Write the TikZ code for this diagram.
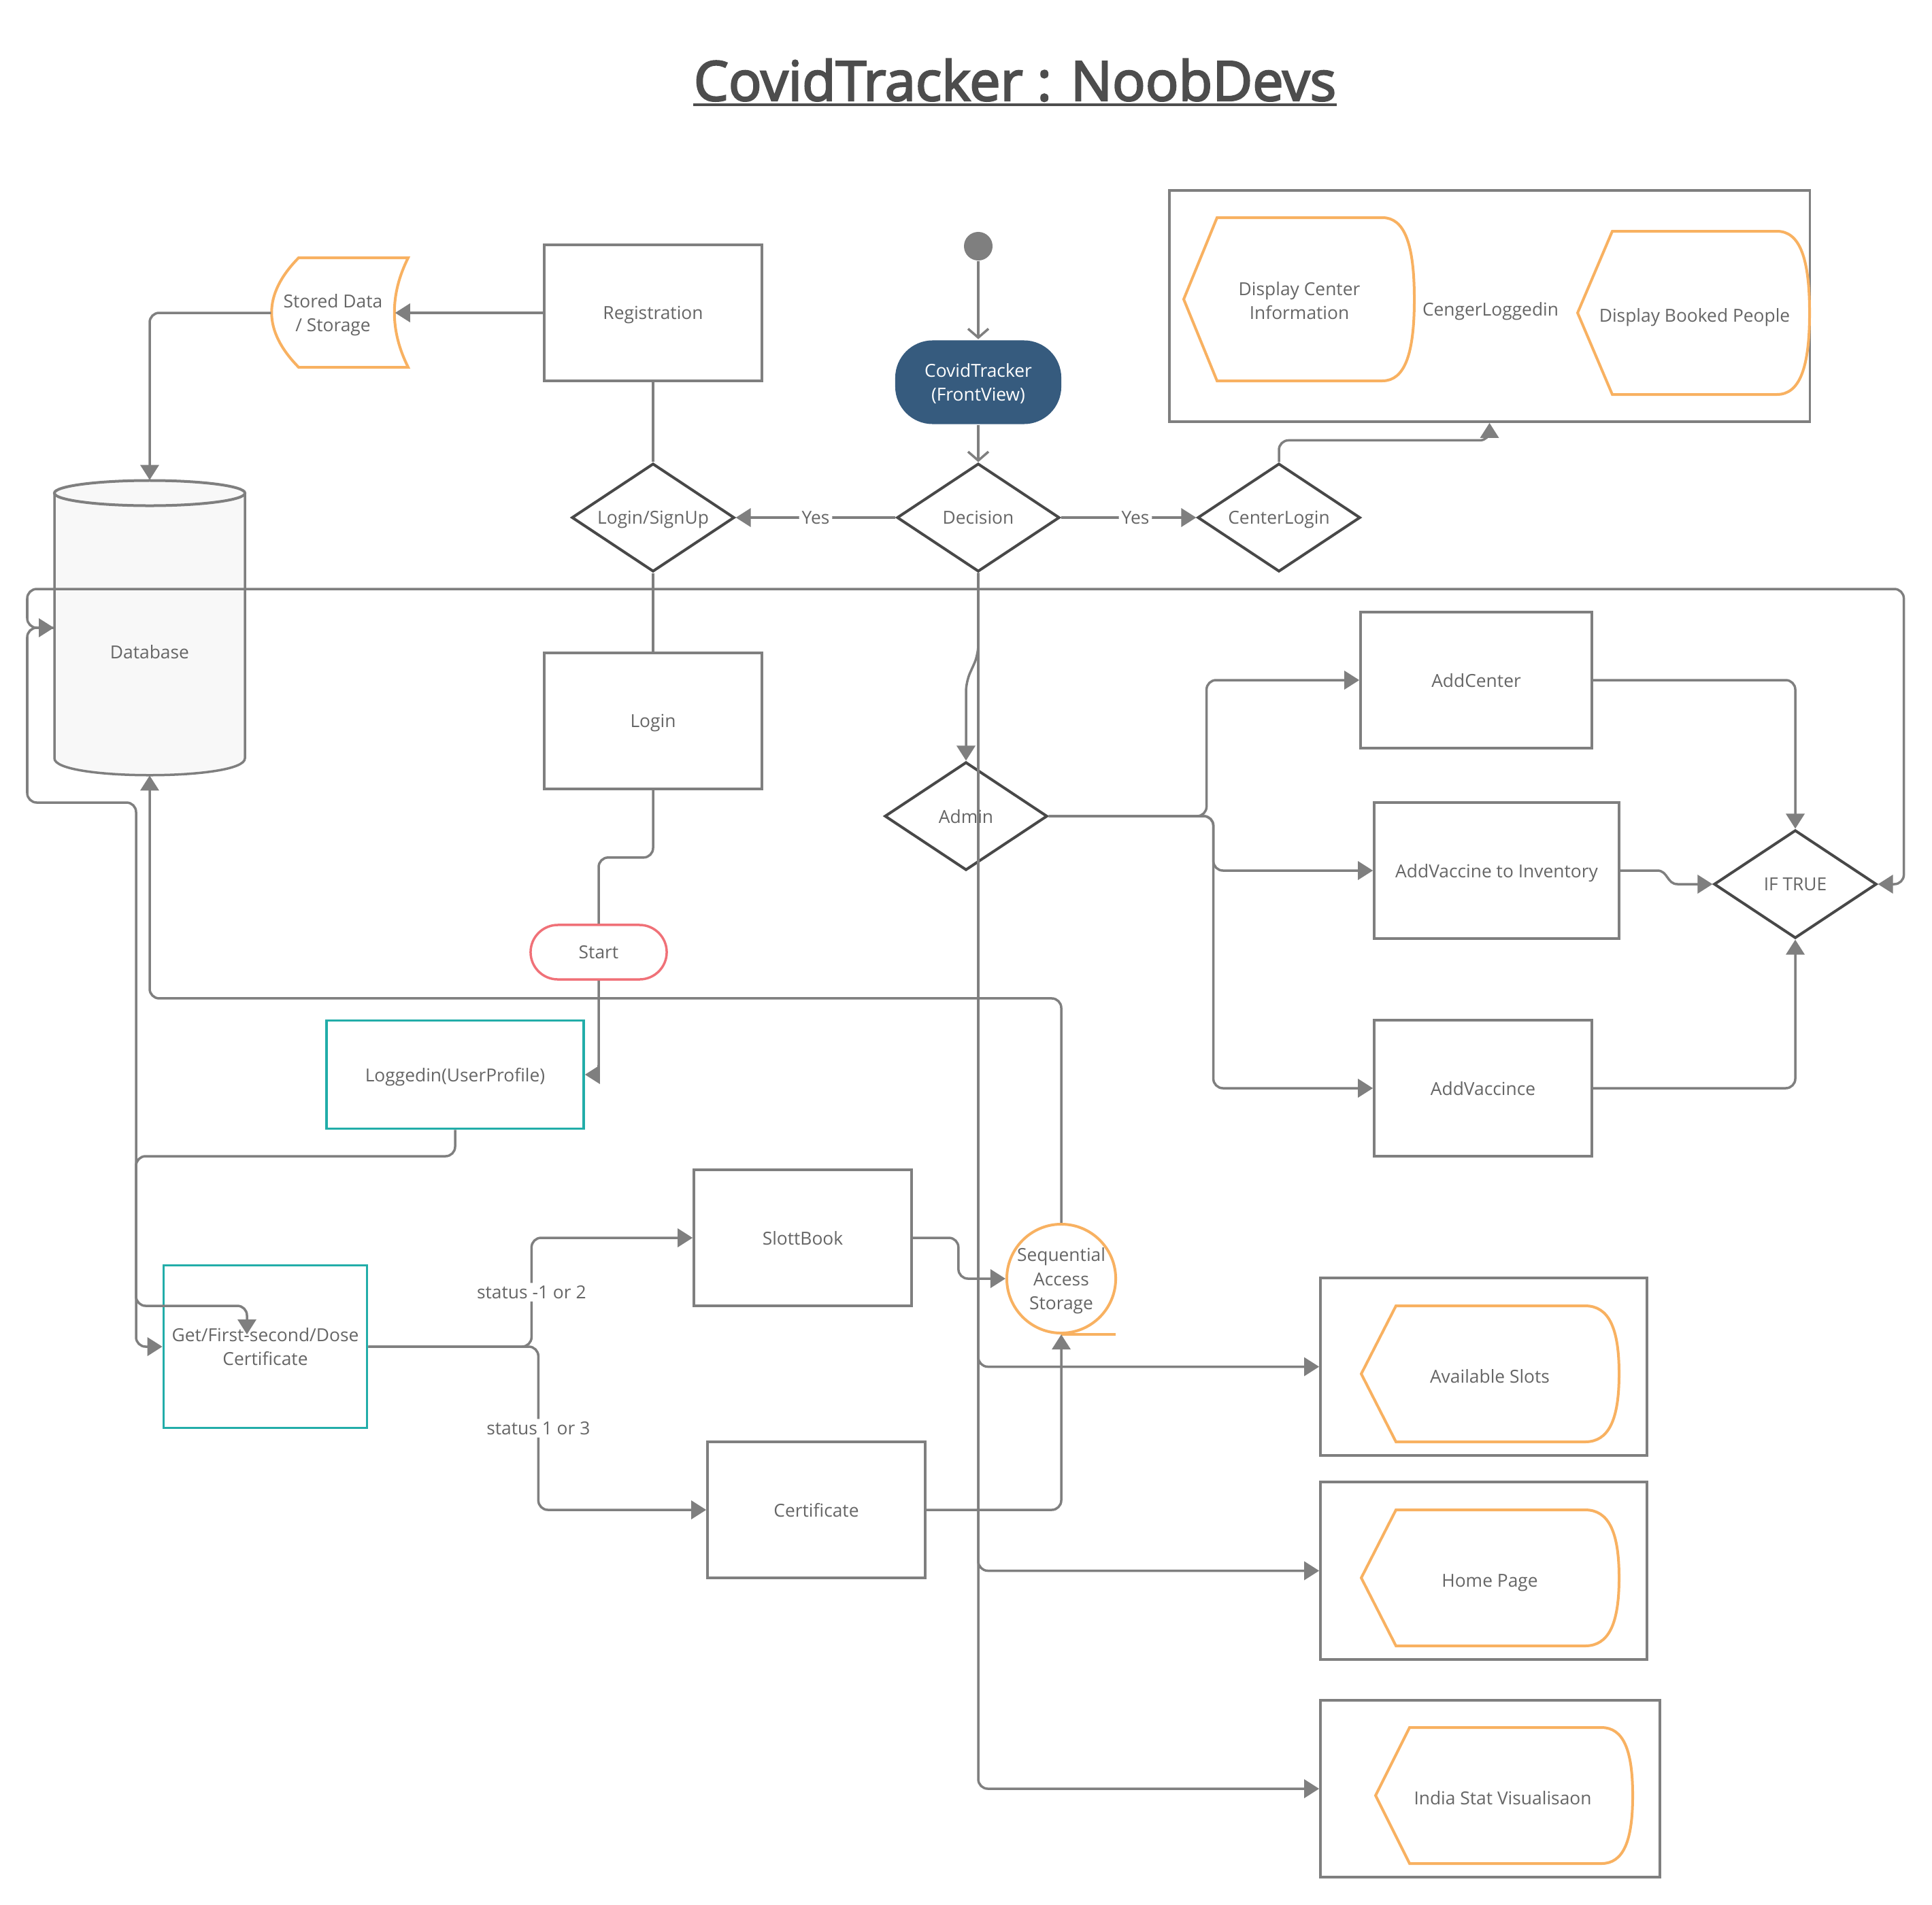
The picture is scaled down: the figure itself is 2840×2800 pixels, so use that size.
\documentclass[tikz,border=0pt]{standalone}
\usepackage{fontspec}
\setmainfont{Open Sans}
\newfontfamily\titlefont[FakeBold=3]{Open Sans}
\usetikzlibrary{shapes.geometric,arrows.meta,calc}
\definecolor{lg}{HTML}{7F7F7F}
\definecolor{dk}{HTML}{484848}
\definecolor{txt}{HTML}{666666}
\definecolor{titlec}{HTML}{4D4D4D}
\definecolor{tealc}{HTML}{22ADA9}
\definecolor{orangec}{HTML}{F8B161}
\definecolor{redc}{HTML}{F07178}
\definecolor{bluec}{HTML}{365B7E}
\definecolor{dbfill}{HTML}{F8F8F8}
\newcommand\bodyfont{\fontsize{7.5}{10.2}\selectfont}
\newcommand\dispsh[6]{%
  \draw[dispst] (#1,{(#5+#6)/2}) -- (#2,#5) -- (#3,#5)
    .. controls ({#3+0.7*(#4-#3)},#5) and (#4,{#5+0.165*(#6-#5)}) .. (#4,{(#5+#6)/2})
    .. controls (#4,{#6-0.165*(#6-#5)}) and ({#3+0.7*(#4-#3)},#6) .. (#3,#6)
    -- (#2,#6) -- cycle;}
\begin{document}
\begin{tikzpicture}[x=0.01cm,y=-0.01cm,
  every node/.style={font=\bodyfont, text=txt, text depth=0pt},
  rectbox/.style={draw=lg, line width=0.035cm, fill=white, inner sep=0pt, align=center},
  tealbox/.style={rectbox, draw=tealc},
  dia/.style={diamond, aspect=1.5, draw=dk, line width=0.04cm, fill=white, inner sep=0pt, minimum width=2.39cm, minimum height=1.59cm},
  dispst/.style={draw=orangec, line width=0.04cm},
  conn/.style={draw=lg, line width=0.035cm, rounded corners=0.14cm},
  arr/.style={conn, -{Triangle[length=0.22cm,width=0.27cm]}},
  arrboth/.style={conn, {Triangle[length=0.22cm,width=0.27cm]}-{Triangle[length=0.22cm,width=0.27cm]}},
  openarr/.style={conn, -{Straight Barb[length=0.13cm,width=0.3cm]}},
  lbl/.style={fill=white, inner sep=0.04cm},
  plain/.style={inner sep=0pt, align=center}]
\useasboundingbox (0,0) rectangle (2840,2800);
\fill[white] (0,0) rectangle (2840,2800);

% title
\node[font=\titlefont\fontsize{23}{28}\selectfont, text=titlec, anchor=base, inner sep=0pt] (title) at (1492,148) {CovidTracker : NoobDevs};
\draw[titlec, line width=0.04cm] ([yshift=-0.06cm]title.base west) -- ([yshift=-0.06cm]title.base east);

% containers
\node[rectbox, minimum width=9.41cm, minimum height=3.4cm] (topbox) at (2189.5,450) {};
\node[rectbox, minimum width=4.8cm, minimum height=2.61cm] (availbox) at (2181,2009.5) {};
\node[rectbox, minimum width=4.8cm, minimum height=2.61cm] (homebox) at (2181,2309.5) {};
\node[rectbox, minimum width=4.99cm, minimum height=2.6cm] (indiabox) at (2190.5,2630) {};

% display shapes
\dispsh{1740}{1789}{2032}{2079}{320}{560}
\dispsh{2319}{2370}{2612}{2660}{340}{580}
\dispsh{2001}{2052}{2330}{2380}{1920}{2120}
\dispsh{2001}{2052}{2330}{2380}{2220}{2420}
\dispsh{2022}{2072}{2354}{2400}{2540}{2740}
\node[plain] (dci) at (1910,442) {Display Center\\Information};
\node[plain] (cgl) at (2191,454) {CengerLoggedin};
\node[plain] (dbp) at (2491,463) {Display Booked People};
\node[plain] (avail) at (2190,2023) {Available Slots};
\node[plain] (home) at (2190,2324) {Home Page};
\node[plain] (india) at (2209,2643) {India Stat Visualisaon};

% stored data
\draw[dispst] (439,379) -- (600,379) .. controls (573,433) and (573,486) .. (600,540)
  -- (439,540) .. controls (386,486) and (386,433) .. (439,379) -- cycle;
\node[plain, minimum width=1.81cm, minimum height=1.61cm] (sd) at (489.5,460) {Stored Data\\/ Storage};

% database cylinder
\fill[dbfill] (80,725) -- (80,1115) .. controls (80,1148) and (360,1148) .. (360,1115) -- (360,725) -- cycle;
\draw[lg, line width=0.035cm] (80,725) -- (80,1115) .. controls (80,1148) and (360,1148) .. (360,1115) -- (360,725);
\filldraw[fill=dbfill, draw=lg, line width=0.04cm] (220,725) ellipse [x radius=1.4cm, y radius=0.185cm];
\node[minimum width=2.8cm, minimum height=4.33cm, inner sep=0pt] (db) at (220,923) {};
\node[plain] (dbtext) at (220,958) {Database};

% nodes
\node[circle, fill=lg, inner sep=0pt, minimum size=0.42cm] (dot) at (1438,362) {};
\node[rectbox, draw=none, fill=bluec, rounded corners=0.55cm, minimum width=2.44cm, minimum height=1.23cm, text=white] (ct) at (1438,562) {CovidTracker\\(FrontView)};
\node[dia] (dec) at (1438,761) {Decision};
\node[dia] (ls) at (960,761) {Login/SignUp};
\node[dia] (cl) at (1880,761) {CenterLogin};
\node[dia] (admin) at (1420,1200) {Admin};
\node[dia] (iftrue) at (2639,1300) {IF TRUE};
\node[rectbox, minimum width=3.2cm, minimum height=2cm] (reg) at (960,460) {Registration};
\node[rectbox, minimum width=3.2cm, minimum height=2cm] (login) at (960,1060) {Login};
\node[rectbox, minimum width=3.4cm, minimum height=2cm] (addc) at (2170,1000) {AddCenter};
\node[rectbox, minimum width=3.6cm, minimum height=2cm] (addvi) at (2200,1280) {AddVaccine to Inventory};
\node[rectbox, minimum width=3.2cm, minimum height=2cm] (addv) at (2180,1600) {AddVaccince};
\node[rectbox, minimum width=3.2cm, minimum height=2cm] (slot) at (1180,1820) {SlottBook};
\node[rectbox, minimum width=3.2cm, minimum height=2cm] (cert) at (1200,2220) {Certificate};
\node[tealbox, minimum width=3.78cm, minimum height=1.59cm] (logged) at (669,1580) {Loggedin(UserProfile)};
\node[tealbox, minimum width=2.99cm, minimum height=2.39cm] (get) at (390,1980) {Get/First-second/Dose\\Certificate};
\node[rectbox, draw=redc, rounded corners=0.4cm, minimum width=2cm, minimum height=0.8cm] (start) at (880,1400) {Start};
\node[circle, draw=orangec, line width=0.04cm, fill=white, inner sep=0pt, minimum size=1.6cm, align=center] (seq) at (1560,1880) {Sequential\\Access\\Storage};
\draw[orangec, line width=0.04cm] (seq.south) -- ++(80,0);
\coordinate (gettip) at (363,1962);

% connectors
\draw[openarr] (dot) -- (ct);
\draw[openarr] (ct) -- (dec);
\draw[arr] (dec.west) -- node[lbl] {Yes} (ls.east);
\draw[arr] (dec.east) -- node[lbl, pos=0.55] {Yes} (cl.west);
\draw[conn] (reg.south) -- (ls.north);
\draw[conn] (ls.south) -- (login.north);
\draw[arr] (reg.west) -- (sd.east);
\draw[arr] (sd.west) -| (db.north);
\draw[conn] (login.south) -- ++(0,99) -| (start.north);
\draw[arr] (start.south) |- (logged.east);
\draw[arr] (logged.south) |- (200,1700) |- (363,1920) -- (gettip);
\draw[arrboth] (iftrue.east) -- ++(38,0) |- (40,866) |- (db.west);
\draw[arr] (db.west) -| (40,1180) -| (200,1980) -- (get.west);
\draw[arr] (seq.north) -- ++(0,-330) -| (db.south);
\draw[arr] (cl.north) -- ++(0,-32) -| (topbox.south);
\draw[arr] (dec.south) -- ++(0,120) -- ++(-18,40) -- (admin.north);
\draw[arr] (dec.south) |- (availbox.west);
\draw[arr] (dec.south) |- (homebox.west);
\draw[arr] (dec.south) |- (indiabox.west);
\draw[arr] (admin.east) -- ++(232,0) |- (addc.west);
\draw[arr] (admin.east) -- ++(242,0) |- (addvi.west);
\draw[arr] (admin.east) -- ++(242,0) |- (addv.west);
\draw[arr] (addc.east) -| (iftrue.north);
\draw[arr] (addv.east) -| (iftrue.south);
\draw[arr, rounded corners=0pt] (addvi.east) -- (2436,1280) .. controls (2452,1280) and (2450,1300) .. (2466,1300) -- (iftrue.west);
\draw[arr] (get.east) -- ++(240,0) |- node[lbl, pos=0.25] {status -1 or 2} (slot.west);
\draw[arr] (get.east) -- ++(250,0) |- node[lbl, pos=0.25] {status 1 or 3} (cert.west);
\draw[arr] (slot.east) -- ++(67,0) |- (seq.west);
\draw[arr] (cert.east) -| (seq.south);
\end{tikzpicture}
\end{document}
